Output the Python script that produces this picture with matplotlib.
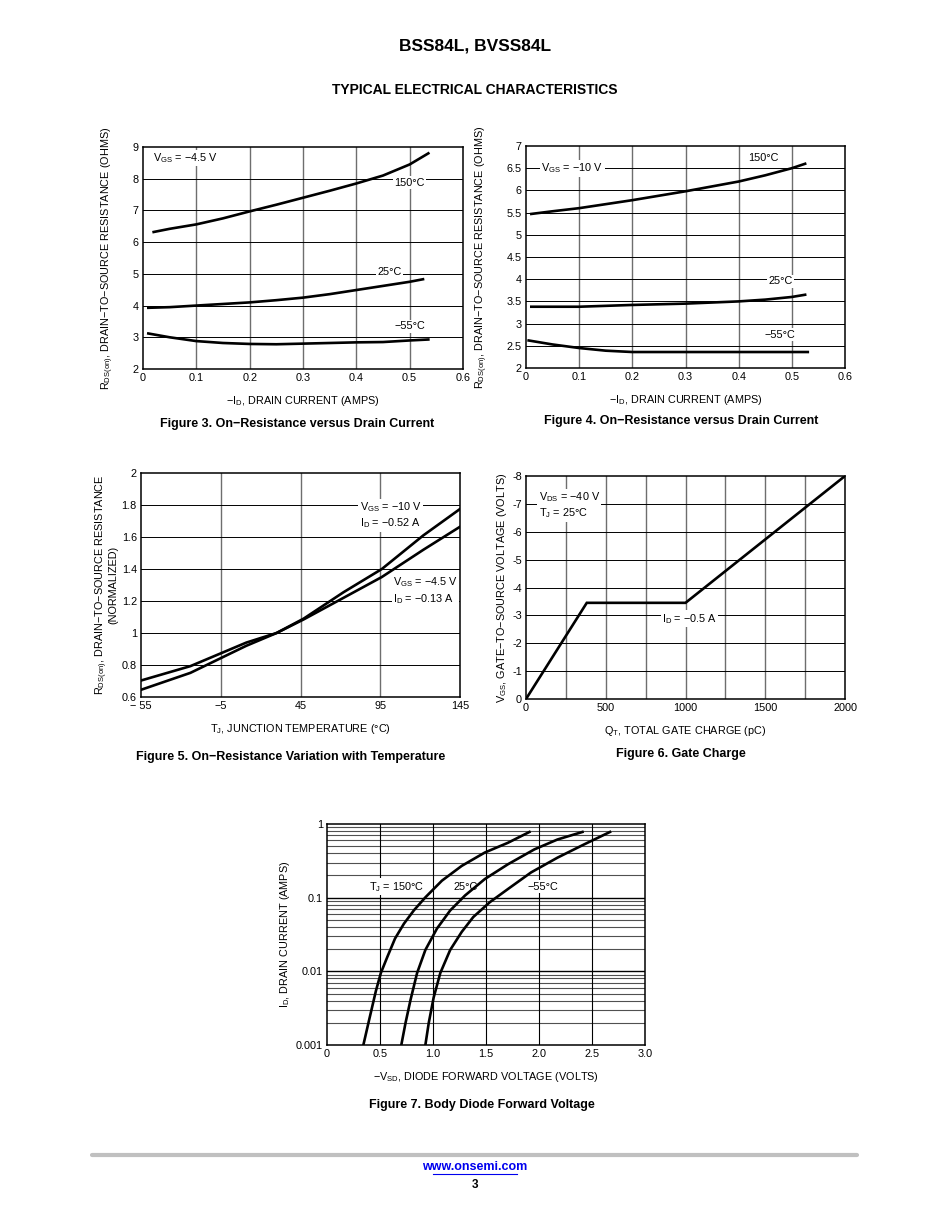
import numpy as np
import matplotlib
matplotlib.use('Agg')
import matplotlib.pyplot as plt

plt.rcParams['font.family'] = ['Liberation Sans Narrow', 'Liberation Sans', 'DejaVu Sans']
plt.rcParams['mathtext.fontset'] = 'custom'
plt.rcParams['mathtext.rm'] = 'Liberation Sans Narrow'
plt.rcParams['axes.unicode_minus'] = True

W, H = 950, 1230

# ---- Figure 3 data: RDS(on) vs ID, VGS = -4.5 V
f3_id_150 = [0.02, 0.05, 0.1, 0.15, 0.2, 0.25, 0.3, 0.35, 0.4, 0.45, 0.5, 0.535]
f3_r_150 = [6.32, 6.42, 6.56, 6.75, 6.97, 7.18, 7.4, 7.62, 7.85, 8.1, 8.45, 8.8]
f3_id_25 = [0.01, 0.05, 0.1, 0.15, 0.2, 0.25, 0.3, 0.35, 0.4, 0.45, 0.5, 0.525]
f3_r_25 = [3.93, 3.95, 4.0, 4.05, 4.1, 4.17, 4.25, 4.36, 4.49, 4.62, 4.75, 4.83]
f3_id_m55 = [0.01, 0.05, 0.1, 0.15, 0.2, 0.25, 0.3, 0.35, 0.4, 0.45, 0.5, 0.535]
f3_r_m55 = [3.12, 3.0, 2.88, 2.82, 2.79, 2.78, 2.8, 2.82, 2.84, 2.85, 2.9, 2.93]

# ---- Figure 4 data: RDS(on) vs ID, VGS = -10 V
f4_id_150 = [0.01, 0.05, 0.1, 0.15, 0.2, 0.25, 0.3, 0.35, 0.4, 0.45, 0.5, 0.525]
f4_r_150 = [5.47, 5.53, 5.6, 5.69, 5.78, 5.88, 5.98, 6.09, 6.2, 6.34, 6.5, 6.6]
f4_id_25 = [0.01, 0.1, 0.2, 0.3, 0.4, 0.45, 0.5, 0.525]
f4_r_25 = [3.38, 3.38, 3.42, 3.45, 3.5, 3.54, 3.6, 3.65]
f4_id_m55 = [0.005, 0.05, 0.1, 0.15, 0.2, 0.3, 0.4, 0.53]
f4_r_m55 = [2.62, 2.53, 2.45, 2.39, 2.36, 2.36, 2.36, 2.36]

# ---- Figure 5 data: normalized RDS(on) vs TJ
f5_tj = [-55, -24, 11, 30, 47, 72, 96, 122, 145]
f5_r_10v = [0.645, 0.751, 0.92, 1.0, 1.09, 1.255, 1.4, 1.61, 1.775]
f5_r_45v = [0.703, 0.793, 0.94, 1.0, 1.085, 1.22, 1.35, 1.52, 1.664]

# ---- Figure 6 data: gate charge
f6_qt = [0, 381, 1000, 2000]
f6_vgs = [0, -3.45, -3.45, -8]

# ---- Figure 7 data: body diode forward voltage
f7_id_150 = [0.001, 0.00224, 0.0054, 0.0095, 0.0158, 0.0279, 0.0444, 0.0671,
             0.101, 0.17, 0.27, 0.41, 0.556, 0.78]
f7_v_150 = [0.343, 0.399, 0.461, 0.508, 0.570, 0.642, 0.726, 0.819,
            0.928, 1.084, 1.271, 1.489, 1.707, 1.91]
f7_id_25 = [0.001, 0.002, 0.0041, 0.0095, 0.0195, 0.038, 0.067, 0.107,
            0.179, 0.284, 0.452, 0.616, 0.78]
f7_v_25 = [0.701, 0.741, 0.788, 0.850, 0.928, 1.037, 1.162, 1.302,
           1.489, 1.707, 1.956, 2.174, 2.41]
f7_id_m55 = [0.001, 0.002, 0.0044, 0.0095, 0.0195, 0.0343, 0.0546, 0.0868,
             0.131, 0.22, 0.349, 0.527, 0.78]
f7_v_m55 = [0.928, 0.960, 1.006, 1.069, 1.162, 1.271, 1.380, 1.536,
            1.707, 1.925, 2.174, 2.424, 2.67]

BOX = dict(facecolor='white', edgecolor='none', pad=1.0)
FS = 7.8


def rect(l, r, t, b):
    return [l / W, 1 - b / H, (r - l) / W, (b - t) / H]


def style_axes(ax, xgrid, ygrid):
    for x in xgrid:
        ax.axvline(x, color='#6e6e6e', lw=1.0, zorder=1)
    for y in ygrid:
        ax.axhline(y, color='black', lw=0.7, zorder=1)
    for s in ax.spines.values():
        s.set_linewidth(1.1)
        s.set_zorder(5)
    ax.tick_params(length=0, labelsize=FS, pad=3)


def label(ax, x, y, s, ha='center', va='center'):
    ax.text(x, y, s, ha=ha, va=va, fontsize=FS, bbox=BOX, zorder=3,
            linespacing=1.25)


fig = plt.figure(figsize=(W / 100, H / 100), dpi=100)

fig.text(475 / W, 1 - 46 / H, 'BSS84L, BVSS84L', ha='center', va='center',
         fontsize=12.5, fontweight='bold', family=['Liberation Sans', 'DejaVu Sans'])
fig.text(475 / W, 1 - 90 / H, 'TYPICAL ELECTRICAL CHARACTERISTICS', ha='center',
         va='center', fontsize=10, fontweight='bold',
         family=['Liberation Sans', 'DejaVu Sans'])

lw = 1.9

# Figure 3
ax3 = fig.add_axes(rect(143, 463, 147, 369))
style_axes(ax3, [0.1, 0.2, 0.3, 0.4, 0.5], [3, 4, 5, 6, 7, 8])
ax3.plot(f3_id_150, f3_r_150, 'k-', lw=lw, zorder=4)
ax3.plot(f3_id_25, f3_r_25, 'k-', lw=lw, zorder=4)
ax3.plot(f3_id_m55, f3_r_m55, 'k-', lw=lw, zorder=4)
ax3.set_xlim(0, 0.6)
ax3.set_ylim(2, 9)
ax3.set_xticks([0, 0.1, 0.2, 0.3, 0.4, 0.5, 0.6])
ax3.set_xticklabels(['0', '0.1', '0.2', '0.3', '0.4', '0.5', '0.6'])
ax3.set_yticks(range(2, 10))
label(ax3, 0.018, 8.65, 'V$_{\\mathregular{GS}}$ = −4.5 V', ha='left')
label(ax3, 0.499, 7.88, '150°C')
label(ax3, 0.463, 5.05, '25°C')
label(ax3, 0.5, 3.35, '−55°C')
ax3.set_xlabel('−I$_{\\mathregular{D}}$, DRAIN CURRENT (AMPS)', fontsize=FS, labelpad=8)
ax3.set_ylabel('R$_{\\mathregular{DS(on)}}$, DRAIN−TO−SOURCE RESISTANCE (OHMS)',
               fontsize=FS, labelpad=12)

# Figure 4
ax4 = fig.add_axes(rect(526, 845, 146, 368))
style_axes(ax4, [0.1, 0.2, 0.3, 0.4, 0.5], np.arange(2.5, 7, 0.5))
ax4.plot(f4_id_150, f4_r_150, 'k-', lw=lw, zorder=4)
ax4.plot(f4_id_25, f4_r_25, 'k-', lw=lw, zorder=4)
ax4.plot(f4_id_m55, f4_r_m55, 'k-', lw=lw, zorder=4)
ax4.set_xlim(0, 0.6)
ax4.set_ylim(2, 7)
ax4.set_xticks([0, 0.1, 0.2, 0.3, 0.4, 0.5, 0.6])
ax4.set_xticklabels(['0', '0.1', '0.2', '0.3', '0.4', '0.5', '0.6'])
ax4.set_yticks(np.arange(2, 7.5, 0.5))
ax4.set_yticklabels(['2', '2.5', '3', '3.5', '4', '4.5', '5', '5.5', '6', '6.5', '7'])
label(ax4, 0.087, 6.5, 'V$_{\\mathregular{GS}}$ = −10 V')
label(ax4, 0.446, 6.73, '150°C')
label(ax4, 0.478, 3.95, '25°C')
label(ax4, 0.478, 2.75, '−55°C')
ax4.set_xlabel('−I$_{\\mathregular{D}}$, DRAIN CURRENT (AMPS)', fontsize=FS, labelpad=8)
ax4.set_ylabel('R$_{\\mathregular{DS(on)}}$, DRAIN−TO−SOURCE RESISTANCE (OHMS)',
               fontsize=FS, labelpad=12)

# Figure 5
ax5 = fig.add_axes(rect(141, 460, 473, 697))
style_axes(ax5, [-5, 45, 95], np.arange(0.8, 2.0, 0.2))
ax5.plot(f5_tj, f5_r_10v, 'k-', lw=lw, zorder=4)
ax5.plot(f5_tj, f5_r_45v, 'k-', lw=lw, zorder=4)
ax5.set_xlim(-55, 145)
ax5.set_ylim(0.6, 2.0)
ax5.set_xticks([-55, -5, 45, 95, 145])
ax5.set_xticklabels(['− 55', '−5', '45', '95', '145'])
ax5.set_yticks(np.arange(0.6, 2.01, 0.2))
ax5.set_yticklabels(['0.6', '0.8', '1', '1.2', '1.4', '1.6', '1.8', '2'])
label(ax5, 82, 1.735, 'V$_{\\mathregular{GS}}$ = −10 V\nI$_{\\mathregular{D}}$ = −0.52 A', ha='left')
label(ax5, 103, 1.265, 'V$_{\\mathregular{GS}}$ = −4.5 V\nI$_{\\mathregular{D}}$ = −0.13 A', ha='left')
ax5.set_xlabel('T$_{\\mathregular{J}}$, JUNCTION TEMPERATURE (°C)', fontsize=FS, labelpad=8)
ax5.set_ylabel('R$_{\\mathregular{DS(on)}}$, DRAIN−TO−SOURCE RESISTANCE\n(NORMALIZED)',
               fontsize=FS, labelpad=2, linespacing=0.85)

# Figure 6
ax6 = fig.add_axes(rect(526, 845, 476, 699))
style_axes(ax6, np.arange(250, 2000, 250), np.arange(-1, -8, -1))
ax6.plot(f6_qt, f6_vgs, 'k-', lw=lw, zorder=4, solid_joinstyle='miter')
ax6.set_xlim(0, 2000)
ax6.set_ylim(0, -8)
ax6.set_xticks([0, 500, 1000, 1500, 2000])
ax6.set_yticks(range(0, -9, -1))
ax6.set_yticklabels(['0', '-1', '-2', '-3', '-4', '-5', '-6', '-7', '-8'])
label(ax6, 80, -6.95, 'V$_{\\mathregular{DS}}$ = −40 V\nT$_{\\mathregular{J}}$ = 25°C', ha='left')
label(ax6, 1025, -2.88, 'I$_{\\mathregular{D}}$ = −0.5 A')
ax6.set_xlabel('Q$_{\\mathregular{T}}$, TOTAL GATE CHARGE (pC)', fontsize=FS, labelpad=8)
ax6.set_ylabel('V$_{\\mathregular{GS}}$, GATE−TO−SOURCE VOLTAGE (VOLTS)', fontsize=FS,
               labelpad=2)

# Figure 7
ax7 = fig.add_axes(rect(327, 645, 824, 1045))
ax7.set_yscale('log')
minor = [m * 10.0 ** e for e in (-3, -2, -1) for m in range(2, 10)]
for y in minor:
    ax7.axhline(y, color='#505050', lw=0.8, zorder=1)
for y in [0.01, 0.1]:
    ax7.axhline(y, color='black', lw=1.0, zorder=1)
for x in [0.5, 1.0, 1.5, 2.0, 2.5]:
    ax7.axvline(x, color='black', lw=0.8, zorder=1)
for s in ax7.spines.values():
    s.set_linewidth(1.1)
    s.set_zorder(5)
ax7.tick_params(which='both', length=0, labelsize=FS, pad=3)
ax7.plot(f7_v_150, f7_id_150, 'k-', lw=lw, zorder=4)
ax7.plot(f7_v_25, f7_id_25, 'k-', lw=lw, zorder=4)
ax7.plot(f7_v_m55, f7_id_m55, 'k-', lw=lw, zorder=4)
ax7.set_xlim(0, 3.0)
ax7.set_ylim(0.001, 1)
ax7.set_xticks([0, 0.5, 1.0, 1.5, 2.0, 2.5, 3.0])
ax7.set_xticklabels(['0', '0.5', '1.0', '1.5', '2.0', '2.5', '3.0'])
ax7.set_yticks([0.001, 0.01, 0.1, 1])
ax7.set_yticklabels(['0.001', '0.01', '0.1', '1'])
ax7.yaxis.set_minor_formatter(plt.NullFormatter())
label(ax7, 0.654, 0.141, 'T$_{\\mathregular{J}}$ = 150°C')
label(ax7, 1.31, 0.141, '25°C')
label(ax7, 2.04, 0.141, '−55°C')
ax7.set_xlabel('−V$_{\\mathregular{SD}}$, DIODE FORWARD VOLTAGE (VOLTS)', fontsize=FS,
               labelpad=8)
ax7.set_ylabel('I$_{\\mathregular{D}}$, DRAIN CURRENT (AMPS)', fontsize=FS, labelpad=3)

# captions
cap = dict(ha='center', va='center', fontsize=9, fontweight='bold',
           family=['Liberation Sans', 'DejaVu Sans'])
fig.text(297 / W, 1 - 424 / H, 'Figure 3. On−Resistance versus Drain Current', **cap)
fig.text(681 / W, 1 - 421 / H, 'Figure 4. On−Resistance versus Drain Current', **cap)
fig.text(291 / W, 1 - 757 / H, 'Figure 5. On−Resistance Variation with Temperature', **cap)
fig.text(681 / W, 1 - 754 / H, 'Figure 6. Gate Charge', **cap)
fig.text(482 / W, 1 - 1105 / H, 'Figure 7. Body Diode Forward Voltage', **cap)

# footer
fig.add_artist(plt.Line2D([92 / W, 857 / W], [1 - 1155 / H, 1 - 1155 / H],
                          color='#c0c0c0', lw=3, solid_capstyle='round'))
fig.text(475 / W, 1 - 1167 / H, 'www.onsemi.com', ha='center', va='center',
         fontsize=9, fontweight='bold', color='#0000ee',
         family=['Liberation Sans Narrow', 'Liberation Sans', 'DejaVu Sans'])
fig.add_artist(plt.Line2D([433 / W, 517 / W], [1 - 1174 / H, 1 - 1174 / H],
                          color='#0000ee', lw=0.8))
fig.text(475 / W, 1 - 1185 / H, '3', ha='center', va='center', fontsize=8.5,
         fontweight='bold')

fig.savefig('out.png', dpi=100)
